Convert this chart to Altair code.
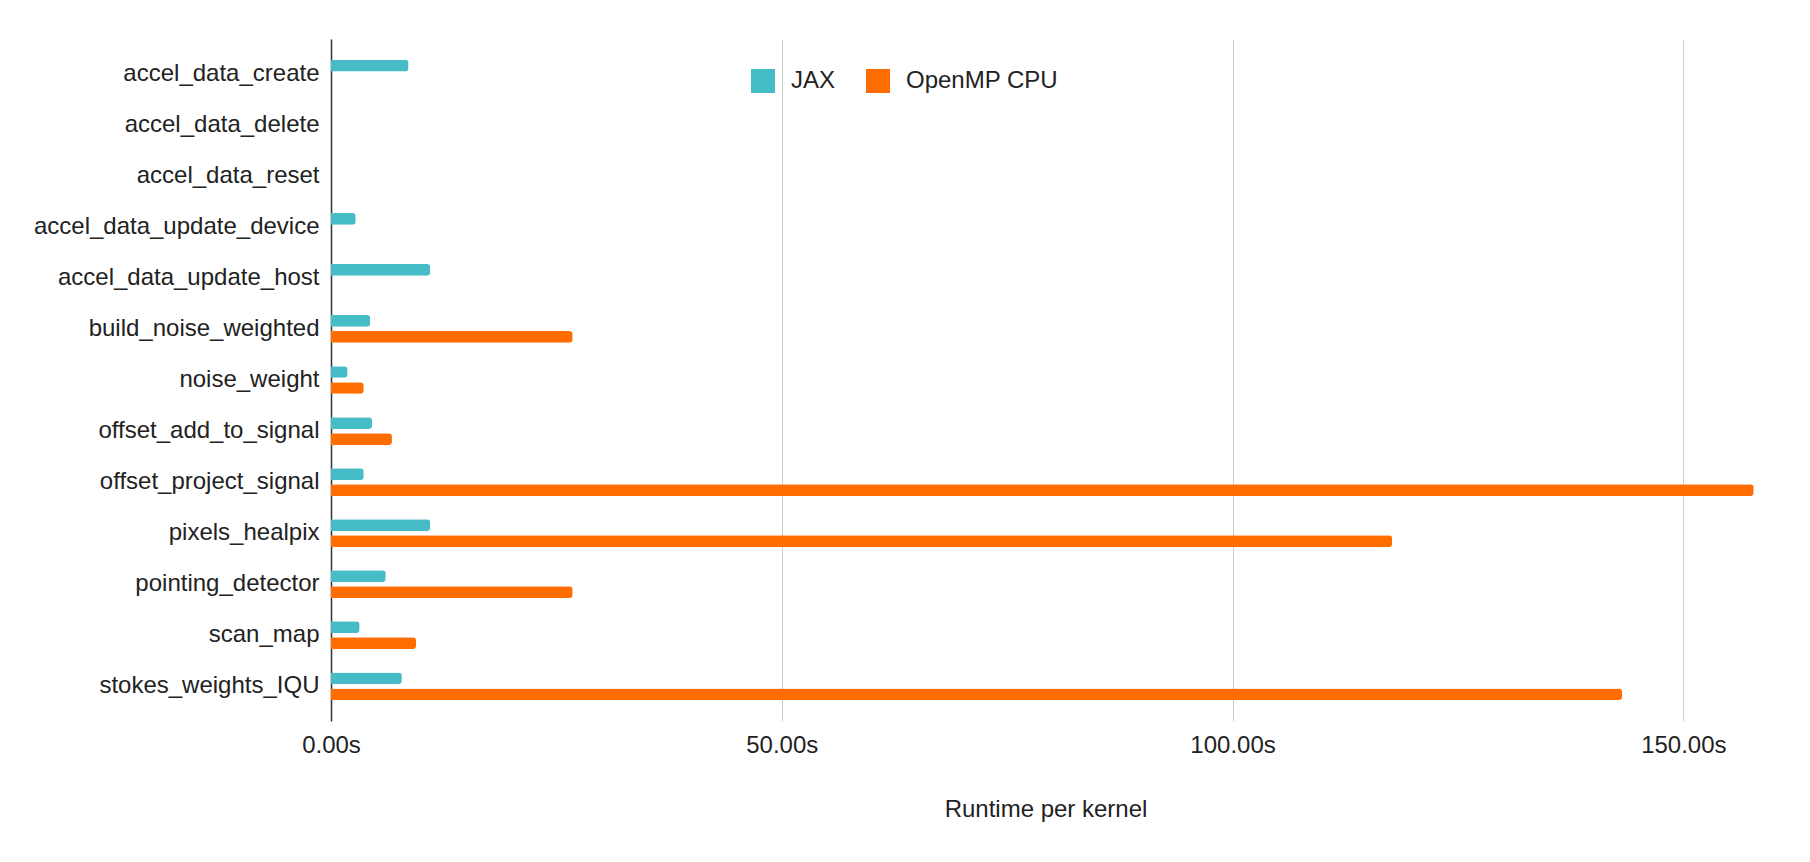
import altair as alt
import pandas as pd

kernels = [
    "accel_data_create", "accel_data_delete", "accel_data_reset",
    "accel_data_update_device", "accel_data_update_host", "build_noise_weighted",
    "noise_weight", "offset_add_to_signal", "offset_project_signal",
    "pixels_healpix", "pointing_detector", "scan_map", "stokes_weights_IQU",
]
jax = [8.6, 0.0, 0.0, 2.74, 11.0, 4.35, 1.84, 4.55, 3.63, 11.0, 6.07, 3.17, 7.86]
openmp = [0.0, 0.0, 0.0, 0.0, 0.0, 26.8, 3.63, 6.76, 157.8, 117.7, 26.8, 9.43, 143.2]
series = ["JAX", "OpenMP CPU"]
colors = ["#46bdc6", "#ff6d01"]
x_ticks = [0, 50, 100, 150]

rows = []
for k, a, b in zip(kernels, jax, openmp):
    rows.append({"kernel": k, "series": series[0], "value": a})
    rows.append({"kernel": k, "series": series[1], "value": b})
df = pd.DataFrame(rows)

FONT = "Liberation Sans"

chart = alt.Chart(df).mark_bar(cornerRadiusEnd=3).encode(
    y=alt.Y("kernel:N", sort=kernels,
            scale=alt.Scale(paddingInner=0, paddingOuter=0.181),
            axis=alt.Axis(title=None, ticks=False, labelPadding=12, labelFontSize=24,
                          labelFont=FONT, labelColor="#222222", labelLimit=500,
                          domainColor="#333333", domainWidth=1.5, grid=False)),
    yOffset=alt.YOffset("series:N", sort=series,
                        scale=alt.Scale(paddingInner=0.27, paddingOuter=0.73)),
    x=alt.X("value:Q", scale=alt.Scale(domain=[0, 158.5], nice=False, zero=True),
            axis=alt.Axis(title="Runtime per kernel", values=x_ticks,
                          labelExpr="format(datum.value, '.2f') + 's'",
                          labelFlush=False,
                          ticks=False, domain=False, grid=True, gridColor="#cccccc",
                          gridWidth=1, labelFontSize=24, labelFont=FONT,
                          labelColor="#222222", labelPadding=12,
                          titleFontSize=24, titleFont=FONT, titleFontWeight="normal",
                          titleColor="#222222", titlePadding=40)),
    color=alt.Color("series:N", sort=series,
                    scale=alt.Scale(domain=series, range=colors),
                    legend=alt.Legend(title=None, orient="none", direction="horizontal",
                                      legendX=420, legendY=30,
                                      symbolType="square", symbolSize=576,
                                      symbolStrokeWidth=0, labelFontSize=24,
                                      labelFont=FONT, labelColor="#222222",
                                      labelOffset=16, columnPadding=30, padding=0)),
).properties(
    width=1429, height=682,
    padding={"left": 323, "top": 31, "right": 40, "bottom": 118},
    autosize=alt.AutoSizeParams(type="none"),
).configure_view(stroke=None)

chart.save("out.html", embed_options={"renderer": "svg", "actions": False})
